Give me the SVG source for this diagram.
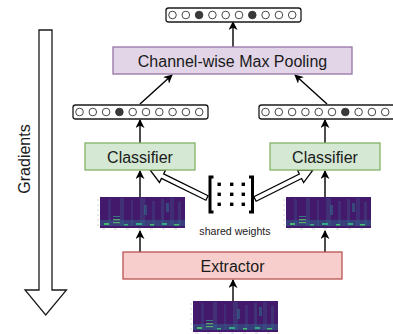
<svg xmlns="http://www.w3.org/2000/svg" xmlns:xlink="http://www.w3.org/1999/xlink" width="393" height="334" viewBox="0 0 393 334">
<style>
text{font-family:"Liberation Sans",Arial,sans-serif;fill:#1a1a1a;}
.lbl{font-size:16px;text-anchor:middle;dominant-baseline:central;}
.small{font-size:10.6px;text-anchor:middle;dominant-baseline:central;}
.vec{fill:#fff;stroke:#1a1a1a;stroke-width:1.3;}
.c{fill:#fff;stroke:#333;stroke-width:0.9;}
.f{fill:#3a3a3a;stroke:#333;stroke-width:0.9;}
.conn{stroke:#000;stroke-width:1.4;fill:none;marker-end:url(#ah);}
.hollow{fill:#fff;stroke:#000;stroke-width:1.3;stroke-linejoin:miter;}
.tick{stroke:#bbb;stroke-width:0.6;}
</style>
<defs>
<marker id="ah" viewBox="0 0 10 10" refX="9" refY="5" markerWidth="9" markerHeight="9" markerUnits="userSpaceOnUse" orient="auto">
<path d="M0,0 L10,5 L0,10 L3,5 z" fill="#000"/>
</marker>
<filter id="soft" x="0" y="0" width="1" height="1">
<feGaussianBlur stdDeviation="0.7"/>
</filter>
<clipPath id="specclip"><rect x="0" y="0" width="85" height="31"/></clipPath>
<g id="spec">
<rect x="0" y="0" width="85" height="31" fill="#43196b"/>
<g clip-path="url(#specclip)">
<g filter="url(#soft)">
<rect x="8" y="2" width="3" height="27" fill="#3b4d8b" opacity="0.35"/>
<rect x="20" y="1" width="4" height="28" fill="#3f5a8c" opacity="0.4"/>
<rect x="31" y="3" width="2" height="26" fill="#3b4d8b" opacity="0.35"/>
<rect x="40" y="1" width="5" height="28" fill="#3f5a8c" opacity="0.35"/>
<rect x="52" y="4" width="3" height="25" fill="#3b4d8b" opacity="0.35"/>
<rect x="61" y="2" width="3" height="27" fill="#3f5a8c" opacity="0.4"/>
<rect x="70" y="1" width="4" height="28" fill="#3b4d8b" opacity="0.35"/>
<rect x="78" y="5" width="3" height="24" fill="#3f5a8c" opacity="0.35"/>
<rect x="0" y="23" width="85" height="6" fill="#2c6f8e" opacity="0.45"/>
<rect x="4" y="26" width="5" height="2" fill="#4cc26c" opacity="0.9"/>
<rect x="13" y="19" width="7" height="1" fill="#2aa08a" opacity="0.7"/>
<rect x="13" y="22" width="7" height="1.2" fill="#5fc86a" opacity="0.8"/>
<rect x="13" y="25" width="7" height="1.2" fill="#5fc86a" opacity="0.8"/>
<rect x="24" y="27" width="4" height="1.5" fill="#3bb07a"/>
<rect x="36" y="26" width="6" height="2" fill="#35a884"/>
<rect x="50" y="27" width="4" height="1.5" fill="#44bf70"/>
<rect x="62" y="26" width="5" height="2" fill="#35a884"/>
<rect x="74" y="27" width="5" height="1.5" fill="#44bf70"/>
<rect x="44" y="8" width="3" height="10" fill="#2a788e" opacity="0.5"/>
<rect x="66" y="6" width="3" height="9" fill="#2a788e" opacity="0.5"/>
</g>
</g>
<line class="tick" x1="-3" y1="3" x2="-1" y2="3"/>
<line class="tick" x1="-3" y1="8" x2="-1" y2="8"/>
<line class="tick" x1="-3" y1="13" x2="-1" y2="13"/>
<line class="tick" x1="-3" y1="18" x2="-1" y2="18"/>
<line class="tick" x1="-3" y1="23" x2="-1" y2="23"/>
<line class="tick" x1="-3" y1="28" x2="-1" y2="28"/>
<line class="tick" x1="2" y1="32" x2="5" y2="32"/>
<line class="tick" x1="14" y1="32" x2="17" y2="32"/>
<line class="tick" x1="26" y1="32" x2="29" y2="32"/>
<line class="tick" x1="38" y1="32" x2="41" y2="32"/>
<line class="tick" x1="50" y1="32" x2="53" y2="32"/>
<line class="tick" x1="62" y1="32" x2="65" y2="32"/>
<line class="tick" x1="74" y1="32" x2="77" y2="32"/>
</g>
</defs>
<rect width="393" height="334" fill="#fff"/>

<g id="gradients">
<polygon points="39,30 52,30 52,290 66.5,290 45.7,315 25,290 39,290" fill="#fff" stroke="#1a1a1a" stroke-width="1.3"/>
<text class="lbl" transform="translate(24,159) rotate(-90)">Gradients</text>
</g>

<g id="connectors">
<line class="conn" x1="233" y1="47" x2="233" y2="22"/>
<line class="conn" x1="140" y1="104" x2="172" y2="75"/>
<line class="conn" x1="327" y1="104" x2="295" y2="75"/>
<line class="conn" x1="140" y1="143" x2="140" y2="120"/>
<line class="conn" x1="325" y1="143" x2="325" y2="120"/>
<line class="conn" x1="140" y1="197" x2="140" y2="171"/>
<line class="conn" x1="325" y1="197" x2="325" y2="171"/>
<line class="conn" x1="140" y1="252" x2="140" y2="231"/>
<line class="conn" x1="325" y1="252" x2="325" y2="231"/>
<line class="conn" x1="233" y1="301" x2="233" y2="280"/>
<polygon class="hollow" points="208.10,195.76 163.67,173.93 165.65,169.89 150,170 159.48,182.46 161.46,178.42 205.90,200.24"/>
<polygon class="hollow" points="256.12,201.24 301.60,178.50 303.61,182.52 313,170 297.35,170.00 299.36,174.02 253.88,196.76"/>
</g>

<g id="top-vector">
<rect class="vec" x="166" y="8" width="135" height="14" rx="2.5"/>
<circle class="c" cx="172.5" cy="15" r="3.8"/>
<circle class="c" cx="185.8" cy="15" r="3.8"/>
<circle class="f" cx="199.1" cy="15" r="3.8"/>
<circle class="c" cx="212.4" cy="15" r="3.8"/>
<circle class="c" cx="225.7" cy="15" r="3.8"/>
<circle class="c" cx="239" cy="15" r="3.8"/>
<circle class="f" cx="252.3" cy="15" r="3.8"/>
<circle class="c" cx="265.6" cy="15" r="3.8"/>
<circle class="c" cx="278.9" cy="15" r="3.8"/>
<circle class="c" cx="292.2" cy="15" r="3.8"/>
</g>

<g id="pooling">
<rect x="113" y="47" width="239" height="27" fill="#e1d5e7" stroke="#9673a6" stroke-width="1.3"/>
<text class="lbl" x="232.5" y="61">Channel-wise Max Pooling</text>
</g>

<g id="left-vector">
<rect class="vec" x="73" y="105" width="135" height="14" rx="2.5"/>
<circle class="c" cx="79.5" cy="112" r="3.8"/>
<circle class="c" cx="92.8" cy="112" r="3.8"/>
<circle class="c" cx="106.1" cy="112" r="3.8"/>
<circle class="f" cx="119.4" cy="112" r="3.8"/>
<circle class="c" cx="132.7" cy="112" r="3.8"/>
<circle class="c" cx="146" cy="112" r="3.8"/>
<circle class="c" cx="159.3" cy="112" r="3.8"/>
<circle class="c" cx="172.6" cy="112" r="3.8"/>
<circle class="c" cx="185.9" cy="112" r="3.8"/>
<circle class="c" cx="199.2" cy="112" r="3.8"/>
</g>

<g id="right-vector">
<rect class="vec" x="259" y="105" width="137" height="14" rx="2.5"/>
<circle class="c" cx="265.5" cy="112" r="3.8"/>
<circle class="c" cx="278.8" cy="112" r="3.8"/>
<circle class="c" cx="292.1" cy="112" r="3.8"/>
<circle class="c" cx="305.4" cy="112" r="3.8"/>
<circle class="c" cx="318.7" cy="112" r="3.8"/>
<circle class="c" cx="332" cy="112" r="3.8"/>
<circle class="f" cx="345.3" cy="112" r="3.8"/>
<circle class="c" cx="358.6" cy="112" r="3.8"/>
<circle class="c" cx="371.9" cy="112" r="3.8"/>
<circle class="c" cx="385.2" cy="112" r="3.8"/>
</g>

<g id="left-classifier">
<rect x="85" y="143" width="110" height="27" fill="#d5e8d4" stroke="#82b366" stroke-width="1.3"/>
<text class="lbl" x="140" y="157">Classifier</text>
</g>

<g id="right-classifier">
<rect x="270" y="143" width="110" height="27" fill="#d5e8d4" stroke="#82b366" stroke-width="1.3"/>
<text class="lbl" x="325" y="157">Classifier</text>
</g>

<g id="left-spectrogram">
<use xlink:href="#spec" href="#spec" transform="translate(100,197)"/>
</g>

<g id="right-spectrogram">
<use xlink:href="#spec" href="#spec" transform="translate(286,197)"/>
</g>

<g id="bottom-spectrogram">
<use xlink:href="#spec" href="#spec" transform="translate(193,301)"/>
</g>

<g id="shared-weights">
<path d="M213.5,177 H210 V212 H213.5" fill="none" stroke="#000" stroke-width="3"/>
<path d="M249,177 H252.5 V212 H249" fill="none" stroke="#000" stroke-width="3"/>
<g fill="#000">
<rect x="217.5" y="182.6" width="3.4" height="3.4"/>
<rect x="230" y="182.6" width="3.4" height="3.4"/>
<rect x="241.6" y="182.6" width="3.4" height="3.4"/>
<rect x="217.5" y="192.6" width="3.4" height="3.4"/>
<rect x="230" y="192.6" width="3.4" height="3.4"/>
<rect x="241.6" y="192.6" width="3.4" height="3.4"/>
<rect x="217.5" y="202.6" width="3.4" height="3.4"/>
<rect x="230" y="202.6" width="3.4" height="3.4"/>
<rect x="241.6" y="202.6" width="3.4" height="3.4"/>
</g>
<text class="small" x="235" y="231">shared weights</text>
</g>

<g id="extractor">
<rect x="123" y="252" width="219" height="27" fill="#f8cecc" stroke="#b85450" stroke-width="1.3"/>
<text class="lbl" x="232.5" y="266">Extractor</text>
</g>
</svg>
